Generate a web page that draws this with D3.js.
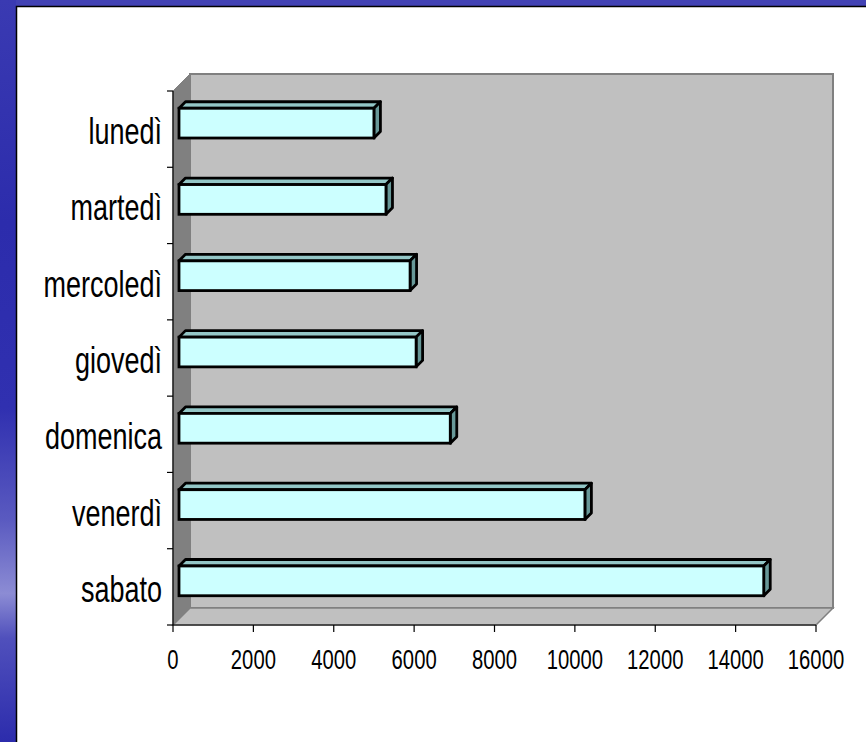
<!DOCTYPE html>
<html>
<head>
<meta charset="utf-8">
<script src="https://cdn.jsdelivr.net/npm/d3@7"></script>
<style>
  html, body { margin: 0; padding: 0; background: #ffffff; }
  svg { display: block; }
  text { font-family: 'Liberation Sans', Arial, sans-serif; fill: #000; }
</style>
</head>
<body>
<script>
const categories = ["lunedì", "martedì", "mercoledì", "giovedì", "domenica", "venerdì", "sabato"];
const values = [4850, 5150, 5750, 5900, 6750, 10100, 14550];
const xTicks = [0, 2000, 4000, 6000, 8000, 10000, 12000, 14000, 16000];

const W = 866, H = 742;
const svg = d3.select("body").append("svg").attr("width", W).attr("height", H);

// background slide decoration
const defs = svg.append("defs");
const lg = defs.append("linearGradient").attr("id", "leftband").attr("x1", 0).attr("y1", 0).attr("x2", 0).attr("y2", 1);
[[0, "#3a3ab2"], [0.3, "#2c2cac"], [0.55, "#3030b0"], [0.7, "#5a5ac0"], [0.8, "#8c8cd4"], [0.86, "#5050bc"], [1, "#2c2cac"]]
  .forEach(([o, c]) => lg.append("stop").attr("offset", o).attr("stop-color", c));
svg.append("rect").attr("x", 0).attr("y", 0).attr("width", W).attr("height", 7).attr("fill", "#4242b4");
svg.append("rect").attr("x", 0).attr("y", 0).attr("width", 16).attr("height", H).attr("fill", "url(#leftband)");
svg.append("rect").attr("x", 16.5).attr("y", 6.5).attr("width", W).attr("height", H).attr("fill", "#fff")
  .attr("stroke", "#000").attr("stroke-width", 1.5);

// scales
const x = d3.scaleLinear().domain([0, 16000]).range([173, 816]);
const y = d3.scaleBand().domain(categories).range([91, 625]).padding(0);
const D = 17;          // wall depth offset
const off = 6;         // bar front plane offset
const bd = 6.5;        // bar depth
const barH = y.bandwidth() * 0.39;
const sx = 0.75;       // condensed text

const x0 = x(0), x1 = x(16000), yTop = y.range()[0], yBot = y.range()[1];

// back wall
svg.append("polygon")
  .attr("points", [[x0 + D, yTop - D], [x1 + D, yTop - D], [x1 + D, yBot - D], [x0 + D, yBot - D]].join(" "))
  .attr("fill", "#c0c0c0").attr("stroke", "#808080").attr("stroke-width", 2);
// floor
svg.append("polygon")
  .attr("points", [[x0, yBot], [x0 + D, yBot - D], [x1 + D, yBot - D], [x1, yBot]].join(" "))
  .attr("fill", "#c0c0c0").attr("stroke", "#808080").attr("stroke-width", 1.5);
// side wall
svg.append("polygon")
  .attr("points", [[x0, yTop], [x0 + D, yTop - D], [x0 + D, yBot - D], [x0, yBot]].join(" "))
  .attr("fill", "#808080").attr("stroke", "#808080").attr("stroke-width", 1);

// bars
const bars = svg.append("g").selectAll("g").data(categories.map((c, i) => ({ c, v: values[i] }))).join("g");
bars.each(function (d) {
  const g = d3.select(this);
  const cy = y(d.c) + y.bandwidth() / 2 - off;
  const bx0 = x(0) + off, bx1 = x(d.v) + off;
  const by0 = cy - barH / 2, by1 = cy + barH / 2;
  g.append("polygon")
    .attr("points", [[bx0, by0], [bx0 + bd, by0 - bd], [bx1 + bd, by0 - bd], [bx1, by0]].join(" "))
    .attr("fill", "#93c6c6").attr("stroke", "#000").attr("stroke-width", 2.8).attr("stroke-linejoin", "round");
  g.append("polygon")
    .attr("points", [[bx1, by0], [bx1 + bd, by0 - bd], [bx1 + bd, by1 - bd], [bx1, by1]].join(" "))
    .attr("fill", "#679898").attr("stroke", "#000").attr("stroke-width", 2.8).attr("stroke-linejoin", "round");
  g.append("rect").attr("x", bx0).attr("y", by0).attr("width", bx1 - bx0).attr("height", by1 - by0)
    .attr("fill", "#ccffff").attr("stroke", "#000").attr("stroke-width", 2.8);
});

// axes
const axes = svg.append("g").attr("stroke", "#000").attr("stroke-width", 1.2);
axes.append("line").attr("x1", x0).attr("x2", x0).attr("y1", yTop).attr("y2", yBot);
axes.append("line").attr("x1", x0).attr("x2", x1).attr("y1", yBot).attr("y2", yBot);
const bounds = categories.map(c => y(c)).concat([yBot]);
axes.selectAll(".yt").data(bounds).join("line").attr("class", "yt")
  .attr("x1", x0 - 6).attr("x2", x0).attr("y1", d => d).attr("y2", d => d);
axes.selectAll(".xt").data(xTicks).join("line").attr("class", "xt")
  .attr("x1", d => x(d)).attr("x2", d => x(d)).attr("y1", yBot).attr("y2", yBot + 7);

// labels
svg.append("g").selectAll("text").data(categories).join("text")
  .attr("transform", d => `translate(162,${y(d) + y.bandwidth() / 2 + 15}) scale(${sx},1)`)
  .attr("text-anchor", "end").attr("font-size", 36).text(d => d);
svg.append("g").selectAll("text").data(xTicks).join("text")
  .attr("transform", d => `translate(${x(d)},669) scale(${sx},1)`)
  .attr("text-anchor", "middle").attr("font-size", 27).text(d => d);
</script>
</body>
</html>
